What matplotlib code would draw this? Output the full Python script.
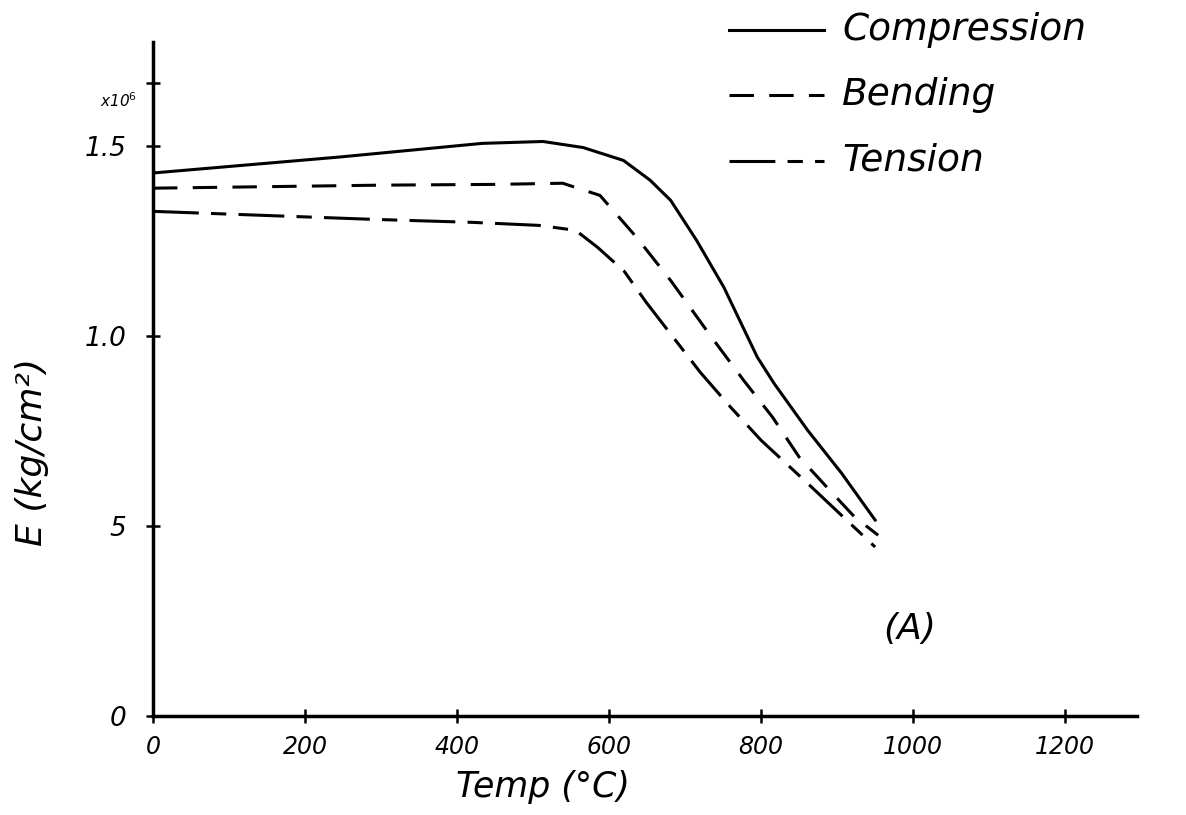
import matplotlib.pyplot as plt
from matplotlib.lines import Line2D

# values (E in units of 10^6 kg/cm^2)
comp_t = [0, 245, 433, 513, 566, 619, 654, 681, 715, 751, 795, 817, 861, 906, 950]
comp_e = [1.43, 1.472, 1.508, 1.513, 1.497, 1.463, 1.411, 1.358, 1.253, 1.129,
          0.945, 0.876, 0.753, 0.639, 0.516]

bend_t = [0, 300, 450, 539, 588, 636, 681, 735, 777, 815, 850, 890, 923, 954]
bend_e = [1.39, 1.398, 1.40, 1.403, 1.371, 1.261, 1.147, 0.997, 0.884, 0.787,
          0.682, 0.595, 0.524, 0.476]

tens_t = [0, 288, 420, 508, 556, 585, 620, 649, 720, 760, 800, 861, 950]
tens_e = [1.329, 1.308, 1.30, 1.292, 1.279, 1.234, 1.171, 1.089, 0.905, 0.813,
          0.726, 0.613, 0.445]

xticks = [0, 200, 400, 600, 800, 1000, 1200]
yticks = [0, 0.5, 1.0, 1.5]
ytick_labels = ["0", "5", "1.0", "1.5"]

hand = dict(family="DejaVu Sans", style="italic")
lw = 2.2
bend_dash = (8, 5)
tens_dash = (15, 4, 5, 4)

fig = plt.figure(figsize=(11.86, 8.15), dpi=100)
ax = fig.add_axes([0.129, 0.1215, 0.83, 0.8265])

style = dict(color="black", lw=lw, solid_joinstyle="round", dash_joinstyle="round")
ax.plot(comp_t, comp_e, **style)
ax.plot(bend_t, bend_e, dashes=bend_dash, **style)
ax.plot(tens_t, tens_e, dashes=tens_dash, **style)

ax.set_xlim(0, 1295)
ax.set_ylim(0, 1.774)
for s in ["top", "right"]:
    ax.spines[s].set_visible(False)
for s in ["left", "bottom"]:
    ax.spines[s].set_linewidth(2.5)

ax.set_xticks(xticks)
ax.set_xticklabels([str(v) for v in xticks], fontsize=17, **hand)
ax.set_yticks(yticks + [1.666])
ax.set_yticklabels(ytick_labels + [""], fontsize=19, **hand)
ax.tick_params(direction="inout", length=10, width=1.8)
ax.tick_params(axis="x", pad=9)
ax.tick_params(axis="y", pad=14)

fig.text(0.084, 0.877, "x10$^6$", fontsize=11, va="center", **hand)

fig.text(0.458, 0.034, "Temp (°C)", fontsize=25, ha="center", va="center", **hand)
fig.text(0.027, 0.445, "E (kg/cm²)", fontsize=26, rotation=90, ha="center", va="center", **hand)
ax.text(995, 0.23, "(A)", fontsize=26, ha="center", va="center", **hand)

# legend drawn by hand at the top right
leg_y = [0.963, 0.883, 0.803]
leg_labels = ["Compression", "Bending", "Tension"]
leg_dash = [None, bend_dash, tens_dash]
for y, lab, d in zip(leg_y, leg_labels, leg_dash):
    ln = Line2D([0.615, 0.695], [y, y], transform=fig.transFigure, color="black", lw=lw)
    if d is not None:
        ln.set_dashes(d)
    fig.add_artist(ln)
    fig.text(0.71, y, lab, fontsize=27, va="center", **hand)

fig.savefig("out.png", dpi=100)
